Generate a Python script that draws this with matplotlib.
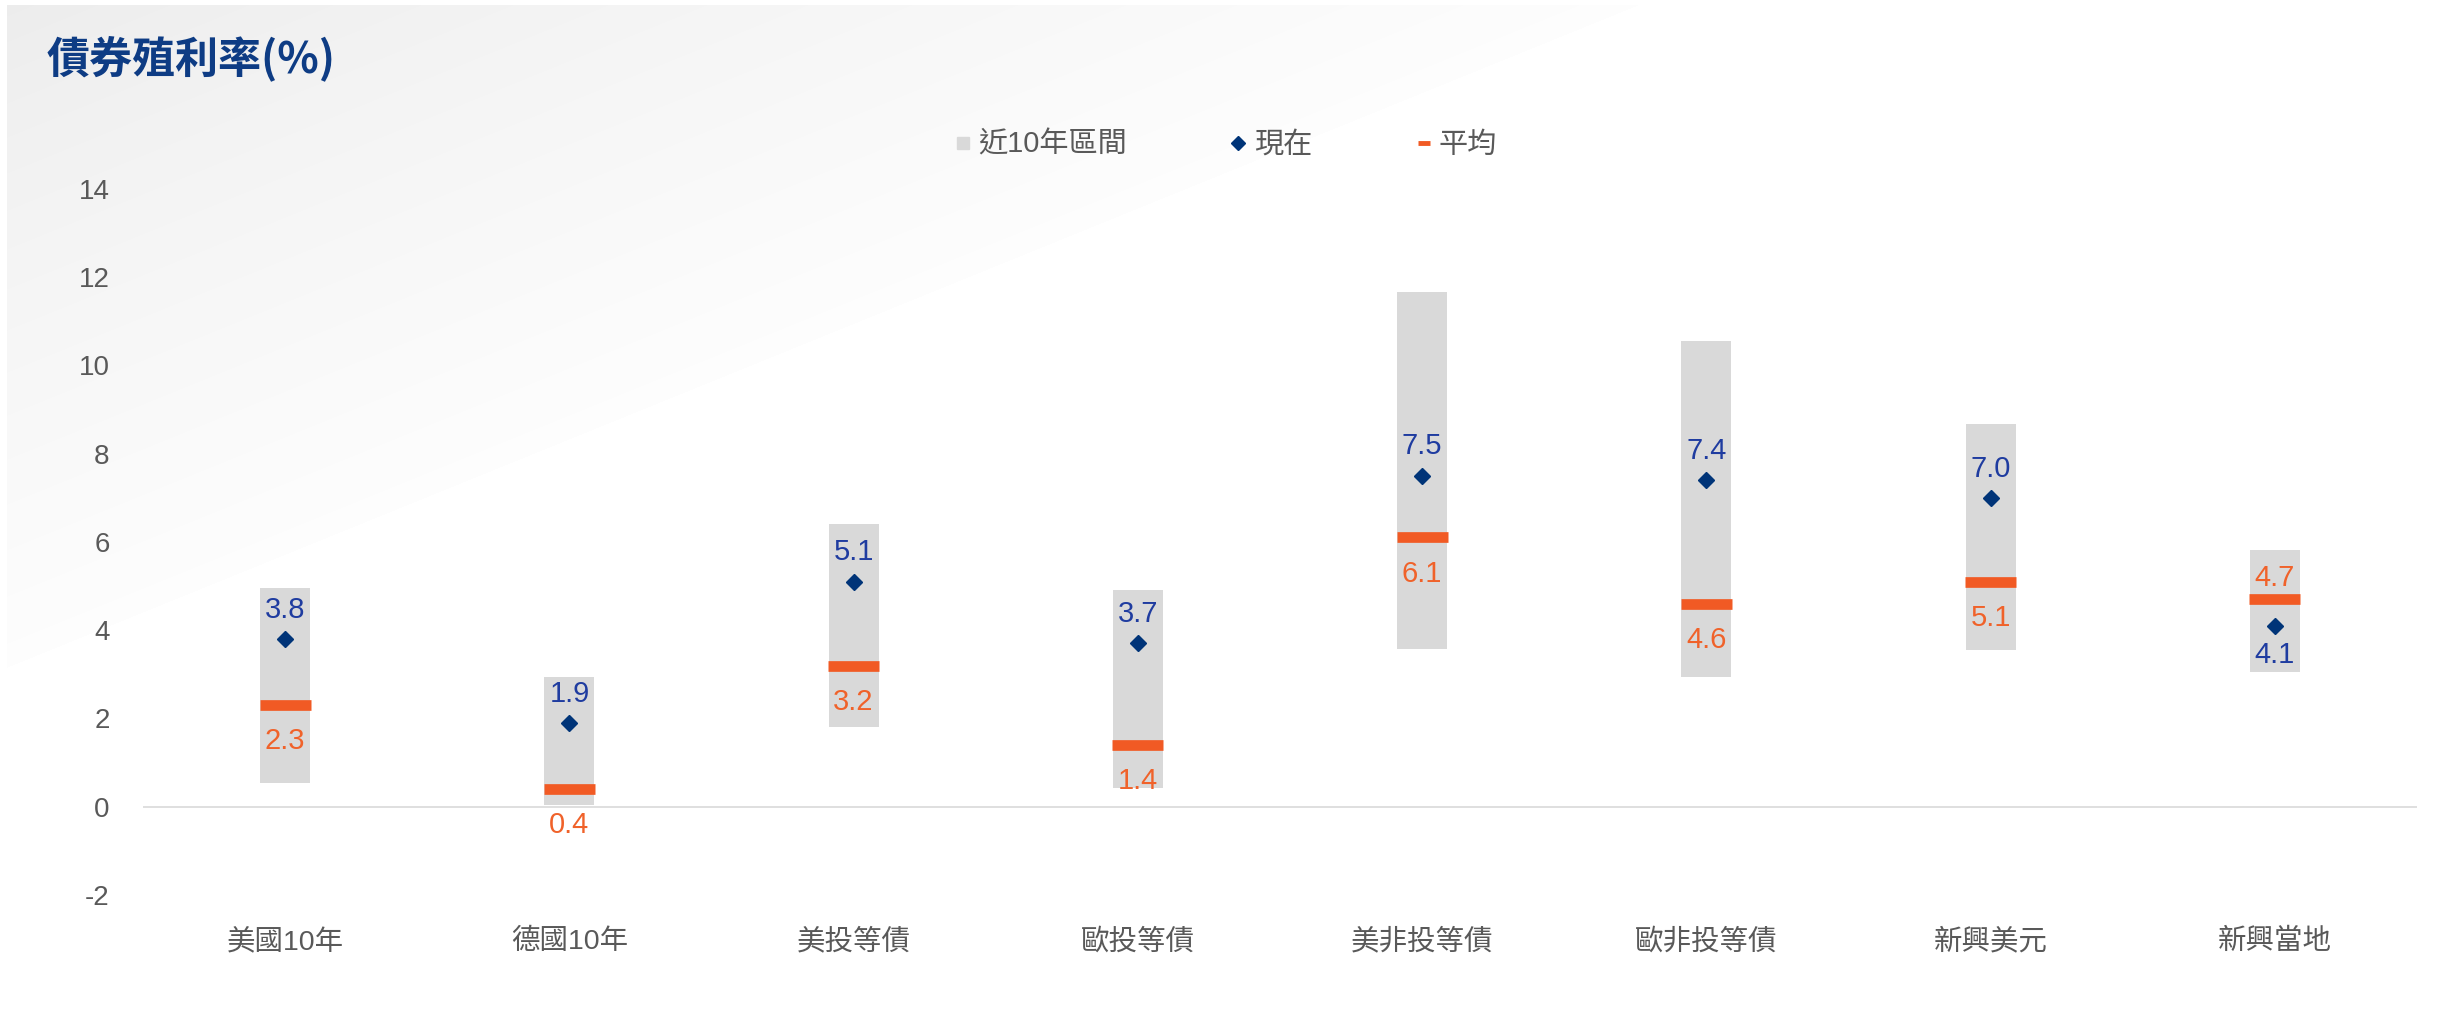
import numpy as np
import matplotlib
matplotlib.use("Agg")
import matplotlib.pyplot as plt
from matplotlib.lines import Line2D

# ---------------- data ----------------
categories = ["美國10年", "德國10年", "美投等債", "歐投等債", "美非投等債", "歐非投等債", "新興美元", "新興當地"]
range_low = [0.55, 0.05, 1.80, 0.42, 3.57, 2.94, 3.55, 3.05]
range_high = [4.96, 2.95, 6.40, 4.92, 11.65, 10.56, 8.68, 5.82]
current = [3.8, 1.9, 5.1, 3.7, 7.5, 7.4, 7.0, 4.1]
average = [2.3, 0.4, 3.2, 1.4, 6.1, 4.6, 5.1, 4.7]
yticks = [-2, 0, 2, 4, 6, 8, 10, 12, 14]
legend_labels = ["近10年區間", "現在", "平均"]
title = "債券殖利率(%)"

# label placement (style): +1 above, -1 below
cur_side = [1, 1, 1, 1, 1, 1, 1, -1]
avg_side = [-1, -1, -1, -1, -1, -1, -1, 1]

# ---------------- style ----------------
FONT = ["Liberation Sans", "Noto Sans CJK TC", "DejaVu Sans"]
plt.rcParams["font.family"] = FONT
GRAY_BAR = "#D9D9D9"
NAVY = "#003478"
BLUE_TXT = "#1F3CA0"
ORANGE = "#F15A24"
ORANGE_TXT = "#F0622A"
TICK_C = "#595959"

W, H = 2440, 1016
fig = plt.figure(figsize=(W / 100, H / 100), dpi=100)
fig.patch.set_facecolor("white")

# background gradient (top-left light gray fading to white)
bg = fig.add_axes([0, 0, 1, 1], zorder=-10)
bg.set_axis_off()
yy, xx = np.mgrid[0:H, 0:W].astype(float)
t = np.clip(xx / 1650.0 + yy / 670.0, 0, 1)
lvl = 236 + (253.5 - 236) * t ** 0.8
lvl = np.where(t >= 1, 255, lvl)
lvl[:5, :] = 255
lvl[:, :7] = 255
img = np.dstack([lvl, lvl, lvl]) / 255.0
bg.imshow(img, extent=[0, W, H, 0], aspect="auto", interpolation="bilinear")
bg.set_xlim(0, W)
bg.set_ylim(H, 0)

# main axes
ax = fig.add_axes([143 / W, 0.119, 2274 / W, 0.6953])
ax.set_facecolor("none")
x = np.arange(len(categories))
bw = 0.176

low = np.array(range_low)
high = np.array(range_high)
ax.bar(x, high - low, bottom=low, width=bw, color=GRAY_BAR, zorder=2, linewidth=0)
ax.hlines(average, x - 0.09, x + 0.09, colors=ORANGE, linewidth=7.7, zorder=3, capstyle="butt")
ax.plot(x, current, linestyle="none", marker="D", markersize=8, color=NAVY, zorder=4)

for i in range(len(categories)):
    ax.annotate(f"{current[i]:.1f}", (x[i], current[i]), xytext=(0, 21 * cur_side[i]),
                textcoords="offset points", ha="center", va="center",
                fontsize=21, color=BLUE_TXT, zorder=5)
    off = 26 if avg_side[i] < 0 else 15
    ax.annotate(f"{average[i]:.1f}", (x[i], average[i]), xytext=(0, off * avg_side[i]),
                textcoords="offset points", ha="center", va="center",
                fontsize=21, color=ORANGE_TXT, zorder=5)

ax.axhline(0, color="#D9D9D9", linewidth=1.2, zorder=1)
ax.set_xlim(-0.5, len(categories) - 0.5)
ax.set_ylim(-2, 14)
ax.set_yticks(yticks)
ax.set_yticklabels([str(v) for v in yticks])
ax.set_xticks(x)
ax.set_xticklabels(categories)
ax.tick_params(axis="y", length=0, pad=24, labelsize=20, labelcolor=TICK_C)
ax.tick_params(axis="x", length=0, pad=24, labelsize=20.5, labelcolor=TICK_C)
for s in ax.spines.values():
    s.set_visible(False)

# legend
handles = [
    Line2D([], [], linestyle="none", marker="s", markersize=8, color=GRAY_BAR),
    Line2D([], [], linestyle="none", marker="D", markersize=7, color=NAVY),
    Line2D([], [], linestyle="none", marker="_", markersize=8, markeredgewidth=3.5, color=ORANGE),
]
leg = fig.legend(handles, legend_labels, loc="center", bbox_to_anchor=(1226 / W, 1 - 145 / H),
                 ncol=3, frameon=False, fontsize=21, handlelength=0.55, handletextpad=0.25,
                 columnspacing=3.55, labelcolor=TICK_C)

# title
fig.text(47 / W, 1 - 58 / H, title, fontsize=31, fontweight="bold", color="#0E3C84",
         va="center", ha="left", family=["Noto Sans CJK TC", "DejaVu Sans"])

fig.savefig("out.png", dpi=100, facecolor="white")
